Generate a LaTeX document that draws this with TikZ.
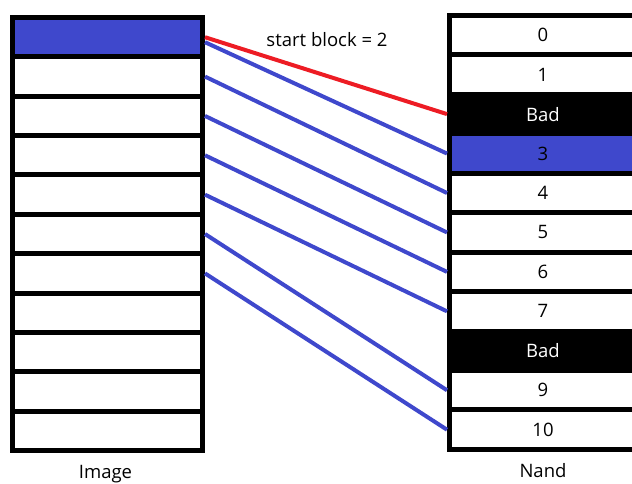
\documentclass[tikz,border=0pt]{standalone}
\usepackage{fontspec}
\setmainfont{Open Sans}
\usepackage{tikz}
\usetikzlibrary{positioning}
\definecolor{blockblue}{RGB}{63,72,204}
\definecolor{startred}{RGB}{237,28,36}
\tikzstyle{cell} = [draw, line width=5pt, fill=white, inner sep=0pt, minimum width=190pt, minimum height=39.36pt]
\tikzstyle{block} = [draw, line width=5pt, fill=white, inner sep=0pt, minimum width=187pt, minimum height=39.45pt]
\tikzstyle{bad} = [fill=black, text=white]
\tikzstyle{used} = [fill=blockblue]
\tikzstyle{link} = [line width=4pt, draw=blockblue]
\tikzstyle{startlink} = [line width=4pt, draw=startred]

\begin{document}
\begin{tikzpicture}[x=1pt, y=-1pt, node distance=-5pt, font=\fontsize{18.5}{22}\selectfont]
	\useasboundingbox (0,0) rectangle (632,483);

	% image blocks
	\node[cell, used](img1) at (107.5,37.2) {};
	\node[cell, below= of img1](img2) {};
	\node[cell, below= of img2](img3) {};
	\node[cell, below= of img3](img4) {};
	\node[cell, below= of img4](img5) {};
	\node[cell, below= of img5](img6) {};
	\node[cell, below= of img6](img7) {};
	\node[cell, below= of img7](img8) {};
	\node[cell, below= of img8](img9) {};
	\node[cell, below= of img9](img10) {};
	\node[cell, below= of img10](img11) {};
	\node[below=9pt of img11, xshift=-2pt](image) {Image};

	% nand blocks
	\node[block](nand0) at (543,35.2) {0};
	\node[block, below= of nand0](nand1) {1};
	\node[block, bad, below= of nand1](nand2) {Bad};
	\node[block, used, below= of nand2](nand3) {3};
	\node[block, below= of nand3](nand4) {4};
	\node[block, below= of nand4](nand5) {5};
	\node[block, below= of nand5](nand6) {6};
	\node[block, below= of nand6](nand7) {7};
	\node[block, bad, below= of nand7](nand8) {Bad};
	\node[block, below= of nand8](nand9) {9};
	\node[block, below= of nand9](nand10) {10};
	\node[below=8pt of nand10](nand) {Nand};

	\node(start) at (327,40) {start block = 2};

	\draw[startlink] (img1.east) -- (nand2.west);
	\draw[link] ([yshift=-5pt]img1.east) -- (nand3.west);
	\draw[link] (img2.east) -- (nand4.west);
	\draw[link] (img3.east) -- (nand5.west);
	\draw[link] (img4.east) -- (nand6.west);
	\draw[link] (img5.east) -- (nand7.west);
	\draw[link] (img6.east) -- (nand9.west);
	\draw[link] (img7.east) -- (nand10.west);

\end{tikzpicture}
\end{document}
